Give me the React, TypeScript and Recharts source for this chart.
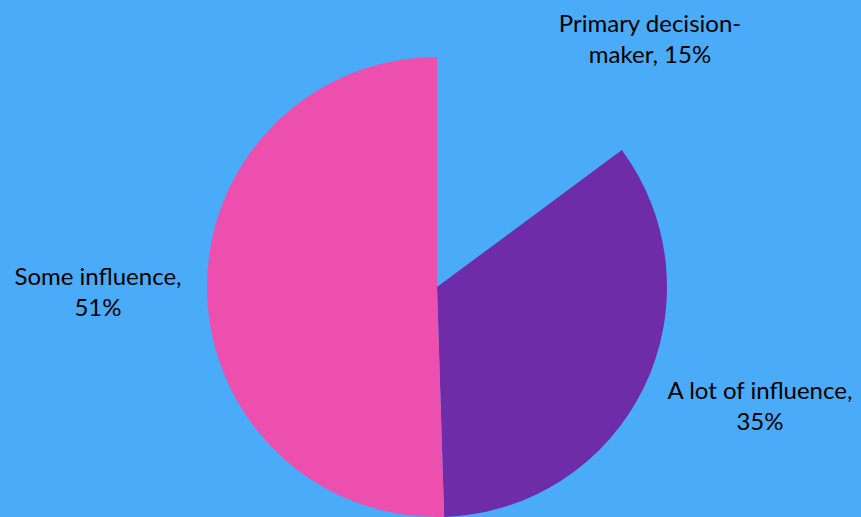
import { PieChart, Pie, Cell } from 'recharts';

const BG = '#4AABF8';

const categories = ['Primary decision-maker', 'A lot of influence', 'Some influence'];
const shares = [15, 35, 51];
const sliceColors = [BG, '#6E2CA8', '#EC4FAE'];

const data = categories.map((name, i) => ({ name, value: shares[i] }));

// label anchor offsets from the pie centre (x, first baseline)
const LABEL_OFFSET = [
  { dx: 213, dy: -255 },
  { dx: 323, dy: 112 },
  { dx: -339, dy: -2 },
];

const labelLines = (name: string, value: number) => {
  const full = `${name}, ${value}%`;
  const hyphen = full.indexOf('-');
  if (hyphen > 0) return [full.slice(0, hyphen + 1), full.slice(hyphen + 1)];
  const comma = full.indexOf(',');
  return [full.slice(0, comma + 1), full.slice(comma + 2)];
};

const renderLabel = (props: any) => {
  const { cx, cy, index, name, value } = props;
  const off = LABEL_OFFSET[index];
  const x = cx + off.dx;
  const y = cy + off.dy;
  const lines = labelLines(name, value);
  return (
    <text
      x={x}
      y={y}
      textAnchor="middle"
      fill="#000"
      fontFamily="Lato, 'Open Sans', sans-serif"
      fontSize={24}
    >
      {lines.map((l, i) => (
        <tspan key={i} x={x} y={y + i * 31}>
          {l}
        </tspan>
      ))}
    </text>
  );
};

export default function App() {
  return (
    <div
      style={{
        position: 'absolute',
        left: 0,
        top: 0,
        width: 861,
        height: 517,
        background: BG,
        overflow: 'hidden',
      }}
    >
      <PieChart width={861} height={517} margin={{ top: 0, right: 0, bottom: 0, left: 0 }}>
        <Pie
          data={data}
          dataKey="value"
          nameKey="name"
          cx={437}
          cy={287}
          outerRadius={230}
          startAngle={90}
          endAngle={-270}
          stroke="none"
          label={renderLabel}
          labelLine={false}
          isAnimationActive={false}
        >
          {data.map((d, i) => (
            <Cell key={d.name} fill={sliceColors[i]} />
          ))}
        </Pie>
      </PieChart>
    </div>
  );
}
